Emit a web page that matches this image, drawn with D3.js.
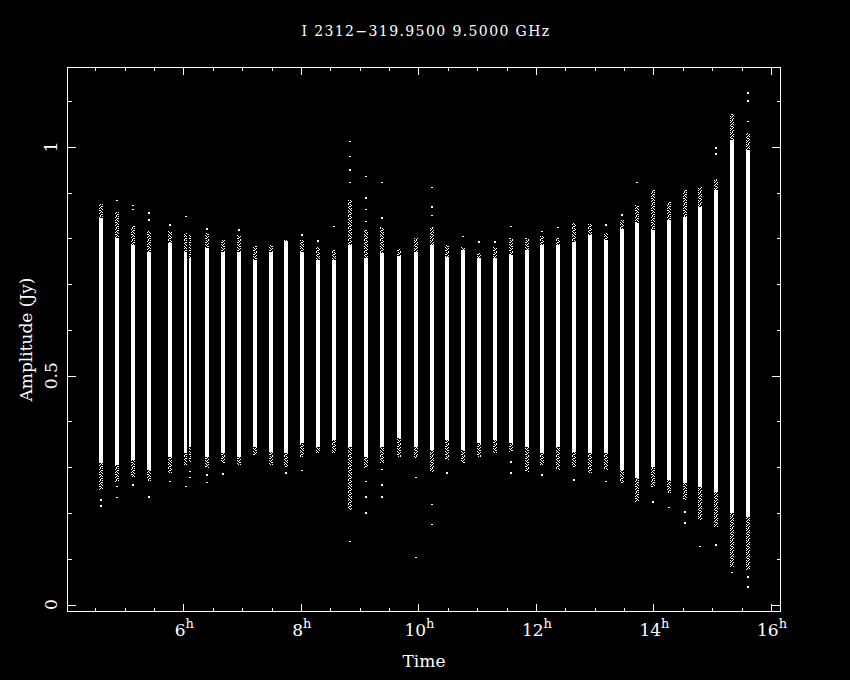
<!DOCTYPE html>
<html>
<head>
<meta charset="utf-8">
<script src="https://cdn.jsdelivr.net/npm/d3@7"></script>
<style>
  body { margin: 0; background: #000; }
  svg { display: block; }
  text { fill: #fff; font-family: "DejaVu Serif", serif; }
</style>
</head>
<body>
<div id="chart"></div>
<script>
// scan centre times (hours) and duration (hours)
const scanTime = [4.594, 4.866, 5.139, 5.411, 5.774, 6.041, 6.114, 6.398, 6.671, 6.943,
  7.216, 7.488, 7.753, 8.016, 8.288, 8.566, 8.838, 9.110, 9.383, 9.672,
  9.961, 10.234, 10.494, 10.761, 11.034, 11.301, 11.574, 11.846, 12.107, 12.379,
  12.651, 12.924, 13.196, 13.457, 13.724, 13.991, 14.264, 14.536, 14.796, 15.069,
  15.341, 15.613];
const scanDur = [0.068, 0.068, 0.068, 0.068, 0.068, 0.056, 0.044, 0.068, 0.068, 0.068,
  0.068, 0.068, 0.068, 0.068, 0.068, 0.068, 0.068, 0.068, 0.068, 0.068,
  0.068, 0.068, 0.068, 0.068, 0.068, 0.068, 0.068, 0.068, 0.068, 0.068,
  0.068, 0.068, 0.068, 0.068, 0.068, 0.068, 0.068, 0.068, 0.068, 0.068,
  0.068, 0.068];
// dense part of each scan (Jy)
const coreHigh = [0.844, 0.801, 0.786, 0.770, 0.790, 0.770, 0.757, 0.779, 0.770, 0.770,
  0.753, 0.770, 0.794, 0.770, 0.753, 0.753, 0.786, 0.757, 0.768, 0.761,
  0.770, 0.786, 0.759, 0.775, 0.757, 0.757, 0.764, 0.775, 0.786, 0.786,
  0.792, 0.807, 0.796, 0.820, 0.834, 0.818, 0.840, 0.847, 0.868, 0.906,
  1.015, 0.993];
const coreLow = [0.309, 0.305, 0.316, 0.294, 0.322, 0.331, 0.344, 0.322, 0.331, 0.322,
  0.344, 0.333, 0.331, 0.353, 0.344, 0.360, 0.344, 0.322, 0.344, 0.364,
  0.344, 0.338, 0.360, 0.338, 0.353, 0.360, 0.353, 0.344, 0.331, 0.344,
  0.333, 0.331, 0.331, 0.294, 0.277, 0.300, 0.272, 0.266, 0.257, 0.246,
  0.200, 0.191];
// sparse fringe of each scan (Jy)
const scatHigh = [0.875, 0.858, 0.827, 0.816, 0.816, 0.812, 0.807, 0.812, 0.796, 0.807,
  0.783, 0.786, 0.796, 0.796, 0.781, 0.775, 0.884, 0.818, 0.825, 0.777,
  0.801, 0.825, 0.786, 0.781, 0.768, 0.781, 0.801, 0.801, 0.805, 0.801,
  0.834, 0.831, 0.812, 0.840, 0.873, 0.906, 0.879, 0.906, 0.912, 0.930,
  1.072, 1.030];
const scatLow = [0.250, 0.268, 0.279, 0.270, 0.287, 0.305, 0.309, 0.298, 0.309, 0.305,
  0.327, 0.305, 0.300, 0.322, 0.331, 0.331, 0.207, 0.298, 0.309, 0.322,
  0.320, 0.290, 0.316, 0.309, 0.322, 0.331, 0.333, 0.290, 0.305, 0.294,
  0.300, 0.287, 0.294, 0.266, 0.224, 0.257, 0.244, 0.228, 0.185, 0.170,
  0.082, 0.076];
// isolated points of each scan (Jy)
const outlierAmp = [
  [0.228, 0.215], [0.882, 0.257, 0.233], [0.871, 0.862, 0.261], [0.855, 0.840, 0.235],
  [0.829, 0.268], [0.847, 0.257], [0.290, 0.277], [0.820, 0.283, 0.266], [0.285], [0.818],
  [], [], [0.287], [0.807, 0.292], [0.794], [0.825],
  [1.011, 0.978, 0.949, 0.921, 0.137], [0.935, 0.888, 0.862, 0.836, 0.268, 0.235, 0.200],
  [0.921, 0.844, 0.294, 0.261, 0.235], [], [0.277, 0.102], [0.910, 0.868, 0.849, 0.218, 0.174],
  [0.287], [0.803], [0.792], [0.792], [0.825, 0.311, 0.287], [], [0.814, 0.283], [0.823],
  [0.272], [], [0.829, 0.268], [0.851], [0.921], [0.224], [0.211], [0.202, 0.178],
  [0.126], [0.997, 0.984, 0.130], [0.069], [1.117, 1.100, 1.055, 0.060, 0.038]
];

const xMajor = [6, 8, 10, 12, 14, 16];
const xMinor = [4.5, 5, 5.5, 6.5, 7, 7.5, 8.5, 9, 9.5, 10.5, 11, 11.5, 12.5, 13, 13.5, 14.5, 15, 15.5];
const yMajor = [0, 0.5, 1];
const yMinor = [0.1, 0.2, 0.3, 0.4, 0.6, 0.7, 0.8, 0.9, 1.1];

const title = "I 2312\u2212319.9500 9.5000 GHz";
const xTitle = "Time";
const yTitle = "Amplitude (Jy)";

const W = 850, H = 680;
const L = 67, R = 781, T = 67, B = 612;

const svg = d3.select("#chart").append("svg")
  .attr("width", W).attr("height", H)
  .style("background", "#000");

const x = d3.scaleLinear().domain([4.02, 16.17]).range([L, R]);
const y = d3.scaleLinear().domain([-0.0162, 1.1743]).range([B, T]);

// speckle pattern for the sparse fringe of each scan
const pat = svg.append("defs").append("pattern")
  .attr("id", "speck").attr("patternUnits", "userSpaceOnUse")
  .attr("width", 4).attr("height", 12);
[[0, 0], [2, 0], [3, 1], [1, 2], [2, 2], [0, 3], [1, 4], [3, 4], [2, 5],
 [0, 6], [3, 6], [1, 7], [0, 8], [2, 8], [3, 9], [1, 10], [2, 10], [0, 11]].forEach(p => {
  pat.append("rect").attr("x", p[0]).attr("y", p[1]).attr("width", 1).attr("height", 1).attr("fill", "#fff");
});

const scans = scanTime.map((t, i) => ({
  t, dur: scanDur[i], ch: coreHigh[i], cl: coreLow[i], sh: scatHigh[i], sl: scatLow[i], out: outlierAmp[i]
}));

const gScan = svg.append("g").attr("shape-rendering", "crispEdges");

const xs = d => x(d.t - d.dur / 2);
const ws = d => x(d.t + d.dur / 2) - x(d.t - d.dur / 2);

gScan.selectAll(".fringeHi").data(scans).join("rect")
  .attr("x", xs).attr("width", ws)
  .attr("y", d => y(d.sh)).attr("height", d => y(d.ch) - y(d.sh))
  .attr("fill", "url(#speck)");

gScan.selectAll(".fringeLo").data(scans).join("rect")
  .attr("x", xs).attr("width", ws)
  .attr("y", d => y(d.cl)).attr("height", d => y(d.sl) - y(d.cl))
  .attr("fill", "url(#speck)");

gScan.selectAll(".core").data(scans).join("rect")
  .attr("x", xs).attr("width", ws)
  .attr("y", d => y(d.ch)).attr("height", d => y(d.cl) - y(d.ch))
  .attr("fill", "#fff");

const pts = scans.flatMap(d => d.out.map(v => ({ t: d.t, v })));
gScan.selectAll(".pt").data(pts).join("rect")
  .attr("x", d => x(d.t) - 1).attr("y", d => y(d.v) - 1)
  .attr("width", 2).attr("height", 1.5)
  .attr("fill", "#fff");

// frame and ticks
svg.append("rect")
  .attr("x", L + 0.5).attr("y", T + 0.5)
  .attr("width", R - L - 1).attr("height", B - T - 1)
  .attr("fill", "none").attr("stroke", "#fff").attr("stroke-width", 1)
  .attr("shape-rendering", "crispEdges");

const tickAxis = (axis, vals, size, tr) => {
  svg.append("g").attr("transform", tr).attr("color", "#fff")
    .attr("shape-rendering", "crispEdges")
    .call(axis.tickValues(vals).tickSize(-size).tickFormat(""))
    .call(g => g.select(".domain").remove());
};
tickAxis(d3.axisBottom(x), xMajor, 8, `translate(0,${B})`);
tickAxis(d3.axisBottom(x), xMinor, 4, `translate(0,${B})`);
tickAxis(d3.axisTop(x), xMajor, 8, `translate(0,${T})`);
tickAxis(d3.axisTop(x), xMinor, 4, `translate(0,${T})`);
tickAxis(d3.axisLeft(y), yMajor, 9, `translate(${L},0)`);
tickAxis(d3.axisLeft(y), yMinor, 4.5, `translate(${L},0)`);
tickAxis(d3.axisRight(y), yMajor, 9, `translate(${R},0)`);
tickAxis(d3.axisRight(y), yMinor, 4.5, `translate(${R},0)`);

// x tick labels with superscript h
xMajor.forEach(v => {
  const t = svg.append("text")
    .attr("x", x(v) + 1).attr("y", 636)
    .attr("text-anchor", "middle").attr("font-size", 17);
  t.append("tspan").text(v);
  t.append("tspan").attr("font-size", 13).attr("dy", -8).text("h");
});

// y tick labels, rotated
yMajor.forEach(v => {
  svg.append("text")
    .attr("transform", `translate(57,${y(v)}) rotate(-90)`)
    .attr("text-anchor", "middle").attr("font-size", 17)
    .text(v);
});

svg.append("text")
  .attr("x", 426).attr("y", 36)
  .attr("text-anchor", "middle").attr("font-size", 14)
  .attr("letter-spacing", 1.4)
  .text(title);

svg.append("text")
  .attr("x", 424).attr("y", 667)
  .attr("text-anchor", "middle").attr("font-size", 17)
  .text(xTitle);

svg.append("text")
  .attr("transform", `translate(32,${(T + B) / 2}) rotate(-90)`)
  .attr("text-anchor", "middle").attr("font-size", 17)
  .text(yTitle);
</script>
</body>
</html>
